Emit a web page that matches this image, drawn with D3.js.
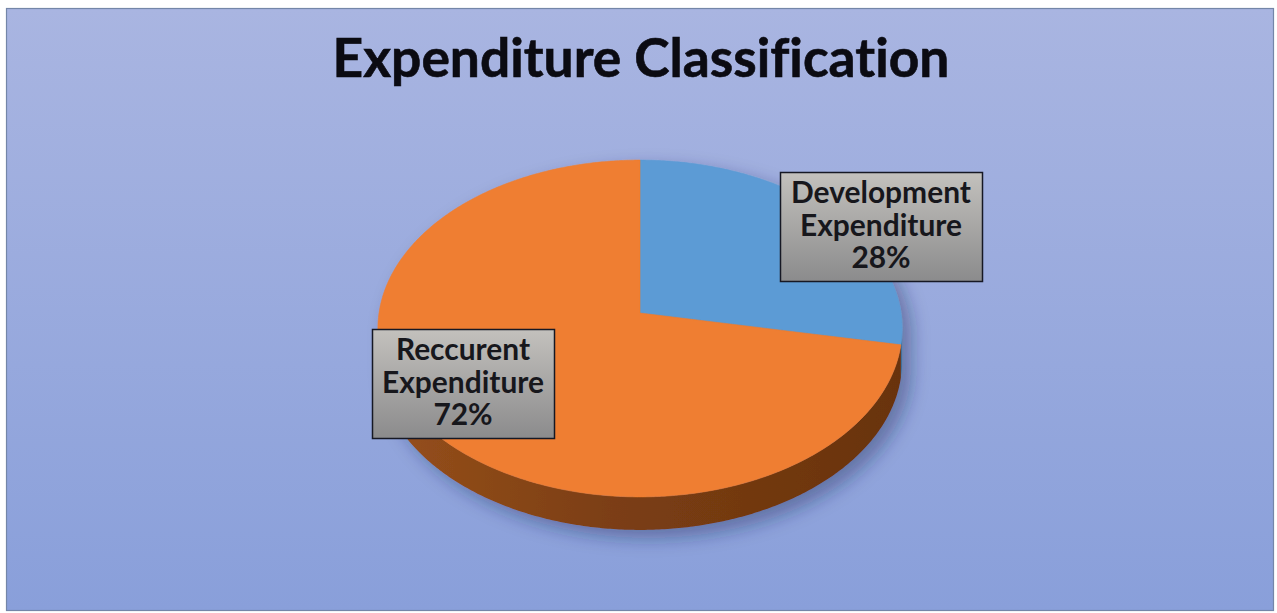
<!DOCTYPE html>
<html>
<head>
<meta charset="utf-8">
<script src="https://cdn.jsdelivr.net/npm/d3@7"></script>
<style>
  html, body { margin: 0; padding: 0; background: #ffffff; }
  svg { display: block; }
  text { font-variant-ligatures: none; font-feature-settings: "liga" 0; }
</style>
</head>
<body>
<svg id="chart" width="1277" height="613"></svg>
<script>
// data
const title = 'Expenditure Classification'
const categories = ['Development Expenditure', 'Reccurent Expenditure']
const shares = [28, 72]
const colors = ['#5b9bd5', '#ef7e30']
const sideColors = ['#3f6f9c', '#7a3d12']

const width = 1277
const height = 613

const svg = d3.select('#chart')
const defs = svg.append('defs')

// background gradient
const bg = defs.append('linearGradient').attr('id', 'bg').attr('x1', 0).attr('y1', 0).attr('x2', 0).attr('y2', 1)
bg.append('stop').attr('offset', '0%').attr('stop-color', '#a9b5e1')
bg.append('stop').attr('offset', '100%').attr('stop-color', '#899fda')

// label box gradient
const boxGrad = defs.append('linearGradient').attr('id', 'box').attr('x1', 0).attr('y1', 0).attr('x2', 0).attr('y2', 1)
boxGrad.append('stop').attr('offset', '0%').attr('stop-color', '#c3c1bd')
boxGrad.append('stop').attr('offset', '100%').attr('stop-color', '#8b8b8c')

// side gradient (orange wall)
const sideGrad = defs.append('linearGradient').attr('id', 'side1').attr('x1', 0).attr('y1', 0).attr('x2', 1).attr('y2', 0)
sideGrad.append('stop').attr('offset', '0%').attr('stop-color', '#97501c')
sideGrad.append('stop').attr('offset', '45%').attr('stop-color', '#7b3e13')
sideGrad.append('stop').attr('offset', '100%').attr('stop-color', '#69330e')

const shadow = defs.append('filter').attr('id', 'shadow')
  .attr('x', '-20%').attr('y', '-20%').attr('width', '140%').attr('height', '140%')
shadow.append('feDropShadow')
  .attr('dx', 9).attr('dy', 8).attr('stdDeviation', 9)
  .attr('flood-color', '#1d2a55').attr('flood-opacity', 0.4)

// frame
svg.append('rect')
  .attr('x', 6.5).attr('y', 8.5)
  .attr('width', 1267).attr('height', 602)
  .attr('fill', 'url(#bg)')
  .attr('stroke', '#7486a8')
  .attr('stroke-width', 1.2)

// title
const titleText = svg.append('text')
  .attr('x', 641).attr('y', 77)
  .attr('text-anchor', 'middle')
  .attr('font-family', 'Lato, "Liberation Sans", sans-serif')
  .attr('font-weight', 700)
  .attr('font-size', 100)
  .attr('fill', '#0b0b12')
  .attr('stroke', '#0b0b12')
  .attr('stroke-width', 0.6)
  .text(title)
titleText.attr('font-size', 100 * 617 / titleText.node().getComputedTextLength())

// pie layout (clockwise from 12 o'clock)
const pie = d3.pie().sort(null).value((d) => d)
const arcs = pie(shares)

// perspective projection of the unit disc onto the screen
const cx = 640, cy = 313
const A = 261, B = 167, k = -0.092
const depth = 33

function project(theta, r, dz) {
  const u = r * Math.sin(theta)
  const v = -r * Math.cos(theta)
  const w = 1 + k * v
  return [cx + (A * u) / w, cy + (B * v) / w + dz]
}

function sample(a0, a1, dz) {
  const n = Math.max(2, Math.ceil(Math.abs(a1 - a0) / 0.01))
  return d3.range(n + 1).map((i) => project(a0 + ((a1 - a0) * i) / n, 1, dz))
}

const line = d3.line()

// visible front wall lies between the silhouette angles
const frontStart = Math.acos(k)           // ~95deg
const frontEnd = 2 * Math.PI - frontStart // ~265deg

const pieG = svg.append('g').attr('id', 'pie').attr('filter', 'url(#shadow)')

// side walls
pieG.append('g').attr('id', 'sides')
  .selectAll('path')
  .data(arcs.filter((d) => d.endAngle > frontStart && d.startAngle < frontEnd))
  .join('path')
  .attr('d', (d) => {
    const a0 = Math.max(d.startAngle, frontStart)
    const a1 = Math.min(d.endAngle, frontEnd)
    const pts = sample(a0, a1, 0).concat(sample(a1, a0, depth))
    return line(pts) + 'Z'
  })
  .attr('fill', (d) => (d.index === 1 ? 'url(#side1)' : sideColors[d.index]))

// top faces
pieG.append('g').attr('id', 'tops')
  .selectAll('path')
  .data(arcs)
  .join('path')
  .attr('d', (d) => line([project(0, 0, 0)].concat(sample(d.startAngle, d.endAngle, 0))) + 'Z')
  .attr('fill', (d) => colors[d.index])
  .attr('stroke', (d) => colors[d.index])
  .attr('stroke-width', 0.6)

// data labels
const boxes = [
  { x: 780, y: 172, w: 202, h: 109 },
  { x: 372, y: 329, w: 182, h: 109 },
]

const labelG = svg.append('g').attr('id', 'labels')
const labels = labelG.selectAll('g')
  .data(arcs)
  .join('g')
  .attr('transform', (d) => `translate(${boxes[d.index].x},${boxes[d.index].y})`)

labels.append('rect')
  .attr('x', 0.5).attr('y', 0.5)
  .attr('width', (d) => boxes[d.index].w)
  .attr('height', (d) => boxes[d.index].h)
  .attr('fill', 'url(#box)')
  .attr('stroke', '#161824')
  .attr('stroke-width', 1.5)

const labelText = labels.append('text')
  .attr('text-anchor', 'middle')
  .attr('font-family', 'Lato, "Liberation Sans", sans-serif')
  .attr('font-weight', 700)
  .attr('font-size', 20)
  .attr('fill', '#17171c')

labelText.selectAll('tspan')
  .data((d) => categories[d.index].split(' ').concat(`${shares[d.index]}%`).map((t) => ({ t, w: boxes[d.index].w })))
  .join('tspan')
  .attr('x', (d) => d.w / 2)
  .attr('y', (d, i) => 31 + i * 32.5)
  .text((d) => d.t)

// fit label font so "Development" spans ~180px
const probe = labelText.filter((d) => d.index === 0).select('tspan').node()
const labelSize = 20 * 180 / probe.getComputedTextLength()
labelText.attr('font-size', labelSize)
</script>
</body>
</html>
